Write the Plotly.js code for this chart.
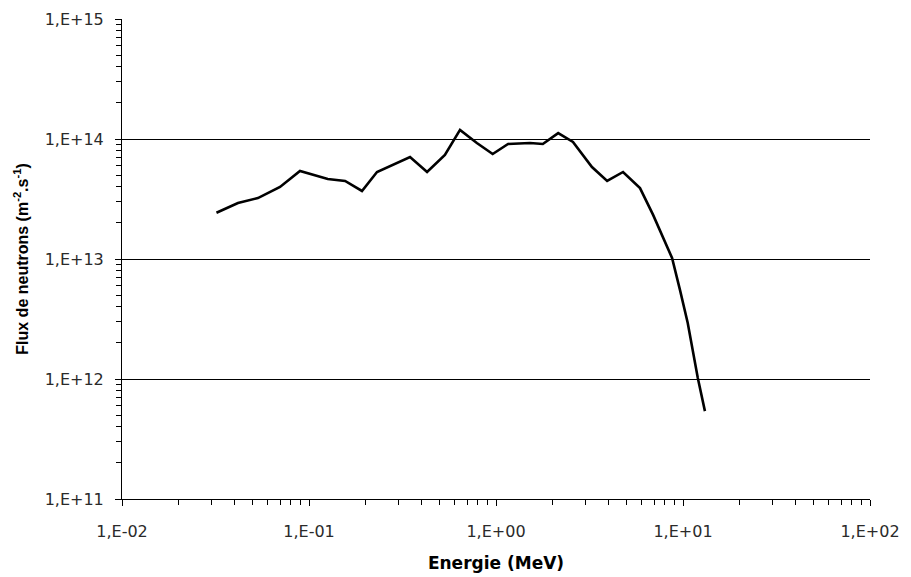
<!DOCTYPE html>
<html>
<head>
<meta charset="utf-8">
<script src="https://cdn.plot.ly/plotly-3.0.1.min.js"></script>
<style>html,body{margin:0;padding:0;background:#fff;}#chart{width:911px;height:577px;}</style>
</head>
<body>
<div id="chart"></div>
<script>
// Energy (MeV)
const energy = [0.032, 0.0417, 0.0533, 0.070, 0.0895, 0.126, 0.156, 0.192, 0.231, 0.281, 0.347, 0.428, 0.533, 0.642, 0.79, 0.96, 1.16, 1.52, 1.78, 2.15, 2.58, 3.26, 3.93, 4.78, 5.89, 6.92, 7.82, 8.74, 9.64, 10.6, 12.0, 13.1];
// Neutron flux (m^-2.s^-1)
const flux = [2.43e13, 2.93e13, 3.22e13, 3.98e13, 5.41e13, 4.64e13, 4.47e13, 3.69e13, 5.31e13, 6.07e13, 7.08e13, 5.31e13, 7.36e13, 1.19e14, 9.26e13, 7.5e13, 9.09e13, 9.26e13, 9.09e13, 1.12e14, 9.44e13, 5.84e13, 4.47e13, 5.31e13, 3.9e13, 2.33e13, 1.5e13, 1.02e13, 5.5e12, 2.93e12, 1.02e12, 5.4e11];

const xTickVals = [0.01, 0.1, 1, 10, 100];
const xTickText = ["1,E-02", "1,E-01", "1,E+00", "1,E+01", "1,E+02"];
const yTickVals = [1e11, 1e12, 1e13, 1e14, 1e15];
const yTickText = ["1,E+11", "1,E+12", "1,E+13", "1,E+14", "1,E+15"];

function minorVals(lo, hi) {
  const out = [];
  for (let e = lo; e < hi; e++) for (let m = 2; m <= 9; m++) out.push(m * Math.pow(10, e));
  return out;
}

const tickFont = {family: "DejaVu Sans, sans-serif", size: 16, color: "#2a2a2a"};

Plotly.newPlot("chart", [{
  x: energy, y: flux, type: "scatter", mode: "lines",
  line: {color: "#000", width: 2.6}, hoverinfo: "x+y"
}], {
  width: 911, height: 577,
  margin: {l: 122, r: 41, t: 19, b: 78},
  paper_bgcolor: "#fff", plot_bgcolor: "#fff",
  showlegend: false,
  font: tickFont,
  xaxis: {
    type: "log", range: [-2, 2],
    tickmode: "array", tickvals: xTickVals, ticktext: xTickText,
    ticks: "outside", ticklen: 6, tickwidth: 1, tickcolor: "#000",
    showline: true, linecolor: "#000", linewidth: 1,
    showgrid: false, zeroline: false,
    ticklabelstandoff: 12,
    tickfont: tickFont,
    minor: {tickmode: "array", tickvals: minorVals(-2, 2), ticks: "outside", ticklen: 5, tickcolor: "#000", showgrid: false},
    title: {text: "Energie (MeV)", font: {family: "DejaVu Sans, sans-serif", size: 17, color: "#000", weight: "bold"}, standoff: 16}
  },
  yaxis: {
    type: "log", range: [11, 15],
    tickmode: "array", tickvals: yTickVals, ticktext: yTickText,
    ticks: "outside", ticklen: 6, tickwidth: 1, tickcolor: "#000",
    showline: true, linecolor: "#000", linewidth: 1,
    showgrid: true, gridcolor: "#000", gridwidth: 1,
    zeroline: false,
    ticklabelstandoff: 8,
    tickfont: tickFont,
    minor: {tickmode: "array", tickvals: minorVals(11, 15), ticks: "outside", ticklen: 5, tickcolor: "#000", showgrid: false},
    title: {text: "Flux de neutrons (m<sup>-2</sup>.s<sup>-1</sup>)", font: {family: "Liberation Sans, Arial, sans-serif", size: 16, color: "#000", weight: "bold"}, standoff: 12}
  }
}, {displayModeBar: false, staticPlot: true});
</script>
</body>
</html>
